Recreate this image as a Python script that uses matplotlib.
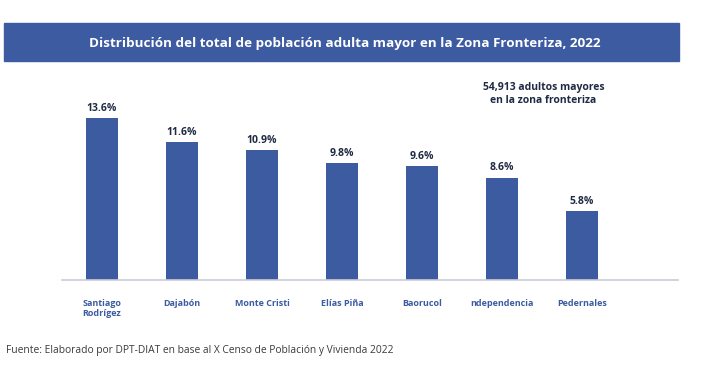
import matplotlib.pyplot as plt
from matplotlib.patches import Rectangle

# Data
provincias = ["Santiago\nRodrígez", "Dajabón", "Monte Cristi", "Elías Piña",
              "Baorucol", "ndependencia", "Pedernales"]
porcentajes = [13.6, 11.6, 10.9, 9.8, 9.6, 8.6, 5.8]

azul = "#3C5BA1"
texto = "#1F2A44"

plt.rcParams['font.family'] = ['Open Sans', 'DejaVu Sans']

fig = plt.figure(figsize=(7.09, 3.77), dpi=100)

# title banner
fig.patches.append(Rectangle((4 / 709, 1 - 61 / 377), 675 / 709, 38 / 377,
                             transform=fig.transFigure, color=azul, zorder=0))
fig.text(345 / 709, 1 - 43 / 377,
         "Distribución del total de población adulta mayor en la Zona Fronteriza, 2022",
         ha="center", va="center", color="white", fontsize=9.7, fontweight="bold")

ax = fig.add_axes([62 / 709, 1 - 280 / 377, 616 / 709, 200 / 377])
x = range(len(provincias))
ax.bar(x, porcentajes, width=0.4, color=azul)
for xi, v in zip(x, porcentajes):
    ax.text(xi, v + 0.35, f"{v}%", ha="center", va="bottom",
            fontsize=7.5, fontweight="bold", color=texto)

ax.set_xlim(-0.5, 7.2)
ax.set_ylim(0, 16.8)
ax.set_xticks(list(x))
ax.set_xticklabels(provincias, fontsize=6.5, fontweight="bold", color=azul,
                   linespacing=1.1)
ax.tick_params(axis="x", length=0, pad=14)
ax.set_yticks([])
for s in ["top", "right", "left"]:
    ax.spines[s].set_visible(False)
ax.spines["bottom"].set_color("#C8CCD4")
ax.spines["bottom"].set_linewidth(1.2)

ax.text(5.52, 15.6, "54,913 adultos mayores\nen la zona fronteriza",
        ha="center", va="center", fontsize=7.5, fontweight="bold", color=texto,
        linespacing=1.2)

fig.text(6 / 709, 1 - 351 / 377,
         "Fuente: Elaborado por DPT-DIAT en base al X Censo de Población y Vivienda 2022",
         ha="left", va="center", fontsize=7.4, color="#3A3A3A")

fig.savefig("out.png", dpi=100)
